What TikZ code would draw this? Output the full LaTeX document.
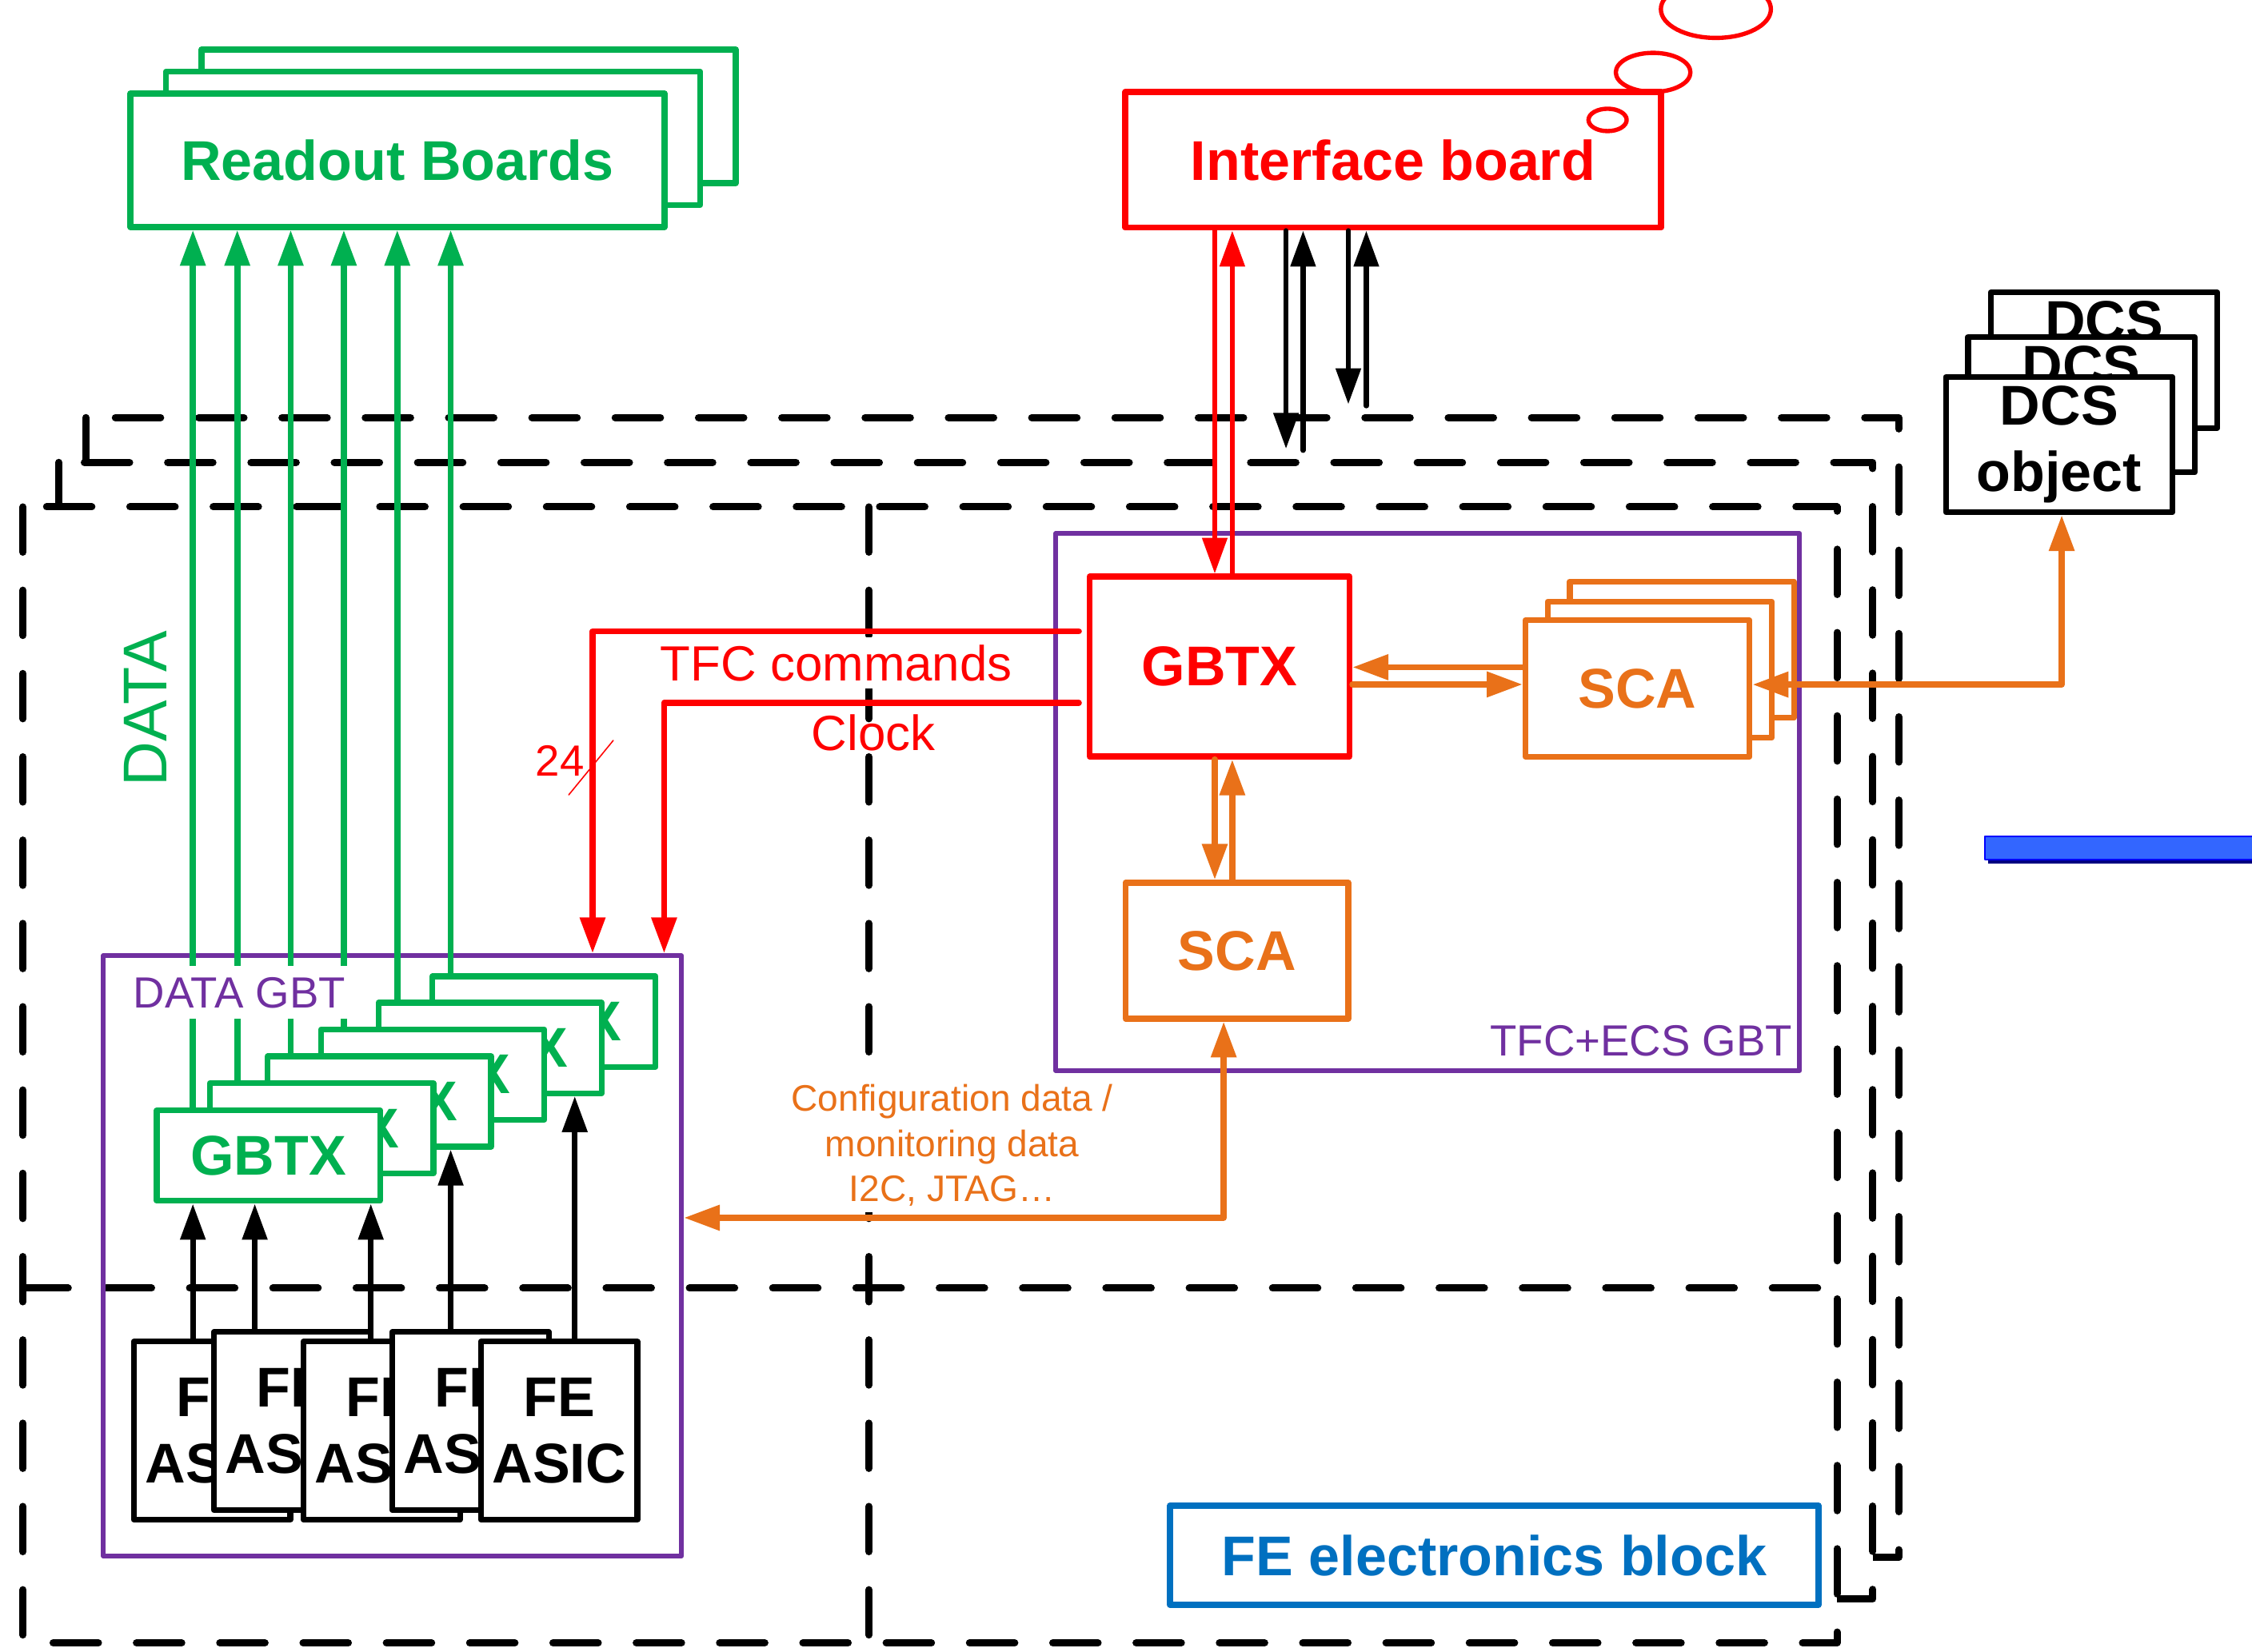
\documentclass[tikz,border=0pt]{standalone}
\usepackage{fontspec}
\setmainfont{Liberation Sans}
\usetikzlibrary{arrows.meta}
\definecolor{cgreen}{HTML}{00B050}
\definecolor{cred}{HTML}{FF0000}
\definecolor{corange}{RGB}{233,113,25}
\definecolor{cpurple}{HTML}{7030A0}
\definecolor{cblue}{HTML}{0070C0}
\definecolor{barblue}{HTML}{3366FF}
\definecolor{barnavy}{HTML}{000080}
\newcommand{\bigbf}{\fontsize{22.2}{26.5}\selectfont\bfseries}
\newcommand{\midtxt}{\fontsize{19.6}{23}\selectfont}
\newcommand{\smltxt}{\fontsize{17.3}{20}\selectfont}
\newcommand{\cfgtxt}{\fontsize{14.6}{17.8}\selectfont}
\begin{document}
\begin{tikzpicture}[x=0.2mm,y=-0.2mm,line cap=round,line join=round,
  arr/.style={-{Triangle[length=5mm,width=3.4mm]}},
  arrb/.style={{Triangle[length=5mm,width=3.4mm]}-{Triangle[length=5mm,width=3.4mm]}},
  bx/.style={draw,fill=white,line width=2.3pt,inner sep=0pt},
  rbox/.style={bx,draw=cgreen,text=cgreen,font=\bigbf,minimum width=74.4mm,minimum height=18.6mm},
  gbox/.style={bx,draw=cgreen,text=cgreen,font=\bigbf,minimum width=31.1mm,minimum height=12.6mm},
  febox/.style={bx,draw=black,font=\bigbf,align=center,minimum width=21.8mm,minimum height=24.8mm},
  dcsbox/.style={bx,draw=black,font=\bigbf,align=center,minimum width=31.56mm,minimum height=18.86mm},
  scabox/.style={bx,draw=corange,text=corange,font=\bigbf,minimum width=31.2mm,minimum height=19mm},
  pbox/.style={draw=cpurple,line width=1.9pt,inner sep=0pt},
  dframe/.style={draw=black,fill=white,line width=2.85pt,dash pattern=on 6.3mm off 5.3mm},
  dline/.style={draw=black,line width=2.85pt,dash pattern=on 6.3mm off 5.3mm},
  gline/.style={draw=cgreen,line width=2.45pt},
  kline/.style={draw=black,line width=2.15pt},
  kthin/.style={draw=black,line width=2pt},
  rline/.style={draw=cred,line width=2.45pt},
  rthin/.style={draw=cred,line width=2pt},
  oline/.style={draw=corange,line width=2.45pt},
  bubble/.style={draw=cred,line width=1.7pt}]
\fill[white] (0,0) rectangle (1568,1150);
\useasboundingbox (0,0) rectangle (1568,1150);

% dashed frames
\path[dframe] (59.7,290.8) rectangle (1322,1084.6);
\path[dframe] (40.9,322) rectangle (1304,1113.6);
\path[dframe] (16,353) rectangle (1279,1144);
\draw[dline] (605,353) -- (605,1144);
\draw[dline] (16,897) -- (1279,897);

% blue bar
\fill[barnavy] (1384,585) rectangle (1570,601.5);
\filldraw[fill=barblue,draw=blue,line width=0.6pt] (1382,582.5) rectangle (1570,598.5);

% readout boards
\node[rbox] (rb3) at (326.3,81) {};
\node[rbox] (rb2) at (301.5,96.3) {};
\node[rbox] (rb1) at (276.7,111.6) {Readout Boards};

% interface board
\node[bx,draw=cred,text=cred,font=\bigbf,minimum width=74.6mm,minimum height=18.9mm] (ib) at (970,111.35) {Interface board};
\draw[bubble] (1119.3,83.5) ellipse [x radius=2.66mm,y radius=1.56mm];
\draw[bubble] (1151,50.4) ellipse [x radius=5.2mm,y radius=2.72mm];
\draw[bubble] (1194.7,6.4) ellipse [x radius=7.66mm,y radius=4mm];

% DCS objects
\node[dcsbox] (dcs3) at (1465,250.85) {DCS\\object};
\node[dcsbox] (dcs2) at (1449.15,281.8) {DCS\\object};
\node[dcsbox] (dcs1) at (1433.7,309.55) {DCS\\object};

% purple GBT boxes
\node[pbox,minimum width=80.5mm,minimum height=83.62mm] (dgbt) at (273.25,874.55) {};
\node[pbox,minimum width=103.6mm,minimum height=74.8mm] (tgbt) at (994,558.5) {};

% data GBTX stack
\node[gbox] (g6) at (378.75,711.4) {GBTX};
\node[gbox] (g5) at (341.2,729.8) {GBTX};
\node[gbox] (g4) at (301.35,748.25) {GBTX};
\node[gbox] (g3) at (264.2,767) {GBTX};
\node[gbox] (g2) at (224,785.7) {GBTX};
\node[gbox] (g1) at (186.95,804.75) {GBTX};

% FE ASICs
\node[febox] (fe1) at (147.65,996.25) {FE\\ASIC};
\node[febox] (fe2) at (203.5,989.55) {FE\\ASIC};
\node[febox] (fe3) at (265.75,996.25) {FE\\ASIC};
\node[febox] (fe4) at (327.6,989.55) {FE\\ASIC};
\node[febox] (fe5) at (389.3,996.25) {FE\\ASIC};

% TFC+ECS GBT content
\node[bx,draw=cred,text=cred,font=\bigbf,minimum width=36.2mm,minimum height=25.06mm] (gbtx) at (849.15,464.15) {GBTX};
\node[scabox] (sca3) at (1171,452.4) {SCA};
\node[scabox] (sca2) at (1155.65,466.3) {SCA};
\node[scabox] (sca1) at (1140.15,479.4) {SCA};
\node[scabox,minimum width=31.04mm,minimum height=18.94mm] (scal) at (861.2,662) {SCA};

% FE electronics block
\node[bx,draw=cblue,text=cblue,font=\bigbf,line width=2.6pt,minimum width=90.24mm,minimum height=13.8mm] (feb) at (1040.4,1083) {FE electronics block};

% x positions of vertical links
\coordinate (xg1) at (134.3,0);
\coordinate (xg2) at (165.2,0);
\coordinate (xg3) at (202.4,0);
\coordinate (xg4) at (239.4,0);
\coordinate (xg5) at (276.6,0);
\coordinate (xg6) at (313.8,0);
\coordinate (xa2) at (177.4,0);
\coordinate (xa3) at (258.2,0);
\coordinate (xa5) at (400.2,0);
\coordinate (xr1) at (845.8,0);
\coordinate (xr2) at (858,0);

% data links to readout boards
\draw[gline,arr] (g1.north -| xg1) -- (rb1.south -| xg1);
\draw[gline,arr] (g2.north -| xg2) -- (rb1.south -| xg2);
\draw[gline,arr] (g3.north -| xg3) -- (rb1.south -| xg3);
\draw[gline,arr] (g4.north -| xg4) -- (rb1.south -| xg4);
\draw[gline,arr] (g5.north -| xg5) -- (rb1.south -| xg5);
\draw[gline,arr] (g6.north -| xg6) -- (rb1.south -| xg6);

% labels
\node[text=cgreen,font=\fontsize{24.5}{28}\selectfont,rotate=90] (datalbl) at (101.2,493.5) {DATA};
\node[text=cpurple,font=\smltxt,anchor=base west,fill=white,inner xsep=0.6mm,inner ysep=1.5mm] (dgbtlbl) at (89.6,701.6) {DATA GBT};
\node[text=cpurple,font=\smltxt,anchor=base east,inner sep=0pt] (tgbtlbl) at (1248.2,735.4) {TFC+ECS GBT};
\node[text=cred,font=\midtxt,anchor=base,fill=white,inner sep=1mm] (tfclbl) at (582.3,474) {TFC commands};
\node[text=cred,font=\midtxt,anchor=base,inner sep=0pt] (clklbl) at (608.1,522.7) {Clock};
\node[text=cred,font=\smltxt,anchor=base west,inner sep=0pt] (n24) at (372.6,540.6) {24};
\node[text=corange,font=\cfgtxt,align=center,fill=white,inner xsep=0.5mm,inner ysep=0.9mm] (cfglbl) at (663,797.5) {Configuration data /\\monitoring data\\I2C, JTAG…};

% FE ASIC to GBTX
\draw[kline,arr] (fe1.north -| xg1) -- (g1.south -| xg1);
\draw[kline,arr] (fe2.north -| xa2) -- (g1.south -| xa2);
\draw[kline,arr] (fe3.north -| xa3) -- (g1.south -| xa3);
\draw[kline,arr] (fe4.north -| xg6) -- (g3.south -| xg6);
\draw[kline,arr] (fe5.north -| xa5) -- (g5.south -| xa5);

% interface board links
\coordinate (k1e) at (895.4,312.5);
\coordinate (k2s) at (907.3,313.6);
\coordinate (k3e) at (938.8,281.5);
\coordinate (k4s) at (951.3,282.6);
\draw[kthin,arr] (ib.south -| k1e) -- (k1e);
\draw[kthin,arr] (k2s) -- (ib.south -| k2s);
\draw[kthin,arr] (ib.south -| k3e) -- (k3e);
\draw[kthin,arr] (k4s) -- (ib.south -| k4s);
\draw[rthin,arr] (ib.south -| xr1) -- (gbtx.north -| xr1);
\draw[rthin,arr] (gbtx.north -| xr2) -- (ib.south -| xr2);

% TFC and clock
\coordinate (tfcB) at (412.6,439.6);
\coordinate (clkB) at (462.4,489.4);
\draw[rline,arr,shorten <=1.1mm] (gbtx.west |- tfcB) -- (tfcB) -- (dgbt.north -| tfcB);
\draw[rline,arr,shorten <=1.1mm] (gbtx.west |- clkB) -- (clkB) -- (dgbt.north -| clkB);
\coordinate (s24a) at (396,553.5);
\coordinate (s24b) at (427,515.6);
\draw[cred,line width=0.5pt] (s24a) -- (s24b);

% ECS links
\coordinate (yo1) at (0,464.6);
\coordinate (yo2) at (0,476.6);
\draw[oline,arr] (sca1.west |- yo1) -- (gbtx.east |- yo1);
\draw[oline,arr] (gbtx.east |- yo2) -- (sca1.west |- yo2);
\draw[oline,arr] (gbtx.south -| xr1) -- (scal.north -| xr1);
\draw[oline,arr] (scal.north -| xr2) -- (gbtx.south -| xr2);
\coordinate (oc) at (852,848);
\draw[oline,arrb] (dgbt.east |- oc) -- (oc) -- (scal.south -| oc);
\coordinate (od) at (1435.5,476.7);
\draw[oline,arrb] (sca1.east |- od) -- (od) -- (dcs1.south -| od);
\end{tikzpicture}
\end{document}
